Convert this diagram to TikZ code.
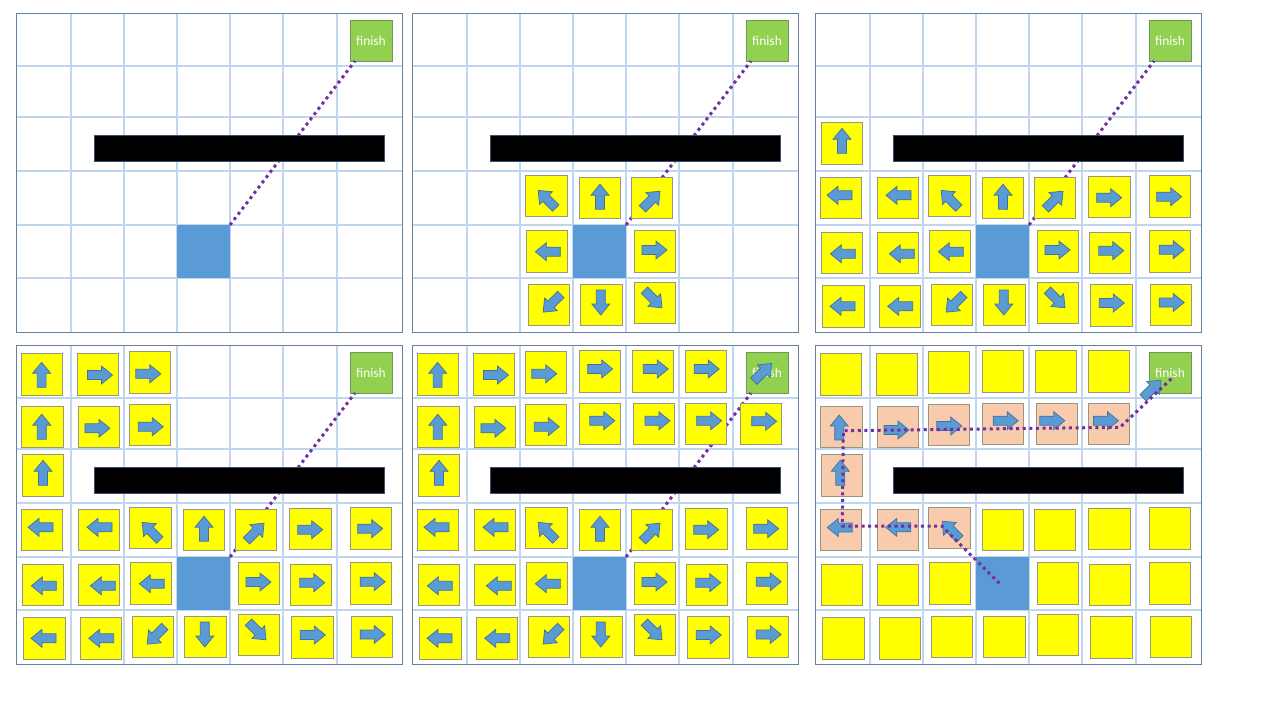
\documentclass[tikz,border=0pt]{standalone}
\usepackage{fontspec}
\setmainfont{Carlito}
\definecolor{startblue}{RGB}{91,155,213}
\definecolor{arrline}{RGB}{65,113,156}
\definecolor{fingreen}{RGB}{146,208,80}
\definecolor{finline}{RGB}{112,150,96}
\definecolor{sqgray}{RGB}{150,150,135}
\definecolor{sqyellow}{RGB}{255,255,0}
\definecolor{salmon}{RGB}{248,203,173}
\definecolor{routepurple}{RGB}{112,48,160}
\definecolor{gridblue}{RGB}{192,214,238}
\definecolor{framecol}{RGB}{100,130,160}
\definecolor{barline}{RGB}{60,80,110}
\tikzset{
  gridline/.style={draw=gridblue, line width=1.2pt},
  frame/.style={draw=framecol, line width=1pt},
  barstyle/.style={fill=black, draw=barline, line width=0.8pt},
  startsq/.style={fill=startblue, draw=none, minimum size=53pt, inner sep=0pt, outer sep=0pt},
  finbox/.style={fill=fingreen, draw=finline, line width=0.9pt, minimum width=42pt, minimum height=41pt, inner sep=0pt, outer sep=0pt, text=white, font=\fontsize{13.5}{15}\selectfont},
  ysq/.style={fill=sqyellow, draw=sqgray, line width=0.9pt},
  psq/.style={fill=salmon, draw=sqgray, line width=0.9pt},
  arrowshape/.style={fill=startblue, draw=arrline, line width=0.7pt, line join=miter},
  route/.style={draw=routepurple, line width=3pt, dash pattern=on 3pt off 3.6pt, line cap=butt},
}
\newcommand\gridbase{%
  \foreach \gx in {55,108,161,214,267,321} \draw[gridline] (\gx,0) -- (\gx,319);
  \foreach \gy in {53,104,158,212,265} \draw[gridline] (0,\gy) -- (386,\gy);
  \draw[frame] (0,0) rectangle (386,319);}
\newcommand\startfin[1]{%
  \node[startsq] (start#1) at (187.5,238.5) {};
  \node[finbox] (finish#1) at (355,27.5) {finish};}
\newcommand\barblk{\draw[barstyle] (78,122) rectangle (368,148);}
\newcommand\directroute[1]{\coordinate (end#1) at (339,48); \draw[route] (start#1.north east) -- (end#1);}
\newcommand\ys[2]{\draw[ysq,shift={(#1,#2)}] (-20.7,-20.7) rectangle (20.7,20.7);}
\newcommand\ps[2]{\draw[psq,shift={(#1,#2)}] (-20.7,-20.7) rectangle (20.7,20.7);}
\newcommand\arw[3]{\draw[arrowshape,shift={(#1,#2)},rotate=#3] (-12.5,-4.5) -- (1.5,-4.5) -- (1.5,-9) -- (12.5,0) -- (1.5,9) -- (1.5,4.5) -- (-12.5,4.5) -- cycle;}
\newcommand\lowsq{%
  \ys{27}{130.5}
  \ys{26}{185}\ys{83}{185}\ys{134.5}{183}\ys{188}{185}\ys{240}{185}\ys{294.5}{184}\ys{354.8}{183.3}
  \ys{27}{240}\ys{83}{240}\ys{134.8}{238.3}\ys{243}{238.3}\ys{294.7}{239.8}\ys{355}{238.3}
  \ys{28.3}{293.3}\ys{84.7}{293.3}\ys{136.7}{291.7}\ys{189.5}{291.7}\ys{243}{290}\ys{296.3}{292.3}\ys{356}{291.7}}
\newcommand\lowarr{%
  \arw{27}{127.8}{90}
  \arw{24.5}{182.3}{180}\arw{83.5}{182.3}{180}\arw{135}{186.2}{135}\arw{188}{183.7}{90}\arw{239.2}{187}{45}\arw{294.2}{184.7}{0}\arw{354.2}{183.7}{0}
  \arw{27.8}{240.8}{180}\arw{86.8}{240.8}{180}\arw{135.8}{238.7}{180}\arw{242.5}{237}{0}\arw{296.3}{237.7}{0}\arw{356.7}{236.7}{0}
  \arw{27.5}{293.3}{180}\arw{85.2}{293.3}{180}\arw{140}{290.3}{225}\arw{188.8}{289.5}{270}\arw{241.2}{286}{315}\arw{296.8}{290}{0}\arw{356.7}{289.5}{0}}
\begin{document}
\begin{tikzpicture}[x=1pt,y=-1pt]
\useasboundingbox (0,0) rectangle (1280,720);
\fill[white] (0,0) rectangle (1280,720);
% Panel 1
\begin{scope}[shift={(16,13)}]
  \gridbase
  \startfin{1}
  \directroute{1}
  \barblk
\end{scope}
% Panel 2
\begin{scope}[shift={(412,13)}]
  \gridbase
  \startfin{2}
  \directroute{2}
  \barblk
  \ys{134.5}{183}\ys{188}{185}\ys{240}{185}
  \ys{134.8}{238.3}\ys{243}{238.3}
  \ys{136.7}{291.7}\ys{189.5}{291.7}\ys{243}{290}
  \arw{135}{186.2}{135}\arw{188}{183.7}{90}\arw{239.2}{187}{45}
  \arw{135.8}{238.7}{180}\arw{242.5}{237}{0}
  \arw{140}{290.3}{225}\arw{188.8}{289.5}{270}\arw{241.2}{286}{315}
\end{scope}
% Panel 3
\begin{scope}[shift={(815,13)}]
  \gridbase
  \startfin{3}
  \directroute{3}
  \barblk
  \lowsq
  \lowarr
\end{scope}
% Panel 4
\begin{scope}[shift={(16,345)}]
  \gridbase
  \startfin{4}
  \directroute{4}
  \barblk
  \lowsq
  \ys{26}{29.5}\ys{82}{29.5}\ys{134}{27.5}
  \ys{26.5}{81.7}\ys{82.8}{81.7}\ys{134}{80}
  \lowarr
  \arw{25.6}{29.8}{90}\arw{84}{30}{0}\arw{132.3}{28.8}{0}
  \arw{25.8}{81.7}{90}\arw{81.4}{83.3}{0}\arw{134.8}{81.7}{0}
\end{scope}
% Panel 5
\begin{scope}[shift={(412,345)}]
  \gridbase
  \startfin{5}
  \directroute{5}
  \barblk
  \lowsq
  \ys{26}{29.5}\ys{82}{29.5}\ys{134}{27.5}\ys{188}{26.5}\ys{241}{26.3}\ys{294}{26.5}
  \ys{26.5}{81.7}\ys{82.8}{81.7}\ys{134}{80}\ys{188}{79.2}\ys{242}{79.2}\ys{294}{79.2}\ys{349}{79.2}
  \lowarr
  \arw{25.6}{29.8}{90}\arw{84}{30}{0}\arw{132.3}{28.8}{0}\arw{188.2}{24}{0}\arw{243.8}{24}{0}\arw{294.7}{24}{0}
  \arw{25.8}{81.7}{90}\arw{81.4}{83.3}{0}\arw{134.8}{81.7}{0}\arw{190.3}{75.7}{0}\arw{245.5}{75.8}{0}\arw{297.2}{75.8}{0}\arw{352.2}{76.3}{0}
  \arw{350.7}{27.3}{45}
\end{scope}
% Panel 6
\begin{scope}[shift={(815,345)}]
  \gridbase
  \startfin{6}
  \barblk
  \ys{26}{29.5}\ys{82}{29.5}\ys{134}{27.5}\ys{188}{26.5}\ys{241}{26.3}\ys{294}{26.5}
  \ps{26.5}{81.7}\ps{82.8}{81.7}\ps{134}{80}\ps{188}{79.2}\ps{242}{79.2}\ps{294}{79.2}
  \ps{27}{130.5}
  \ps{26}{185}\ps{83}{185}\ps{134.5}{183}\ys{188}{185}\ys{240}{185}\ys{294.5}{184}\ys{354.8}{183.3}
  \ys{27}{240}\ys{83}{240}\ys{134.8}{238.3}\ys{243}{238.3}\ys{294.7}{239.8}\ys{355}{238.3}
  \ys{28.3}{293.3}\ys{84.7}{293.3}\ys{136.7}{291.7}\ys{189.5}{291.7}\ys{243}{290}\ys{296.3}{292.3}\ys{356}{291.7}
  \arw{24.2}{82.5}{90}\arw{81.5}{85}{0}\arw{134.3}{81}{0}\arw{190.7}{75.7}{0}\arw{237.3}{75.7}{0}\arw{291}{75.7}{0}
  \arw{25.3}{127.7}{90}
  \arw{24.8}{182.5}{180}\arw{83.3}{182.3}{180}\arw{136}{185}{135}
  \arw{337}{44}{45}
  \coordinate (p6a) at (184.3,238.3);
  \coordinate (p6b) at (126.7,181);
  \coordinate (p6c) at (27.3,181);
  \coordinate (p6d) at (28.3,85.7);
  \coordinate (p6e) at (305,82.3);
  \coordinate (p6f) at (356.7,33.3);
  \draw[route] (p6a) -- (p6b) -- (p6c) -- (p6d) -- (p6e) -- (p6f);
\end{scope}
\end{tikzpicture}
\end{document}
